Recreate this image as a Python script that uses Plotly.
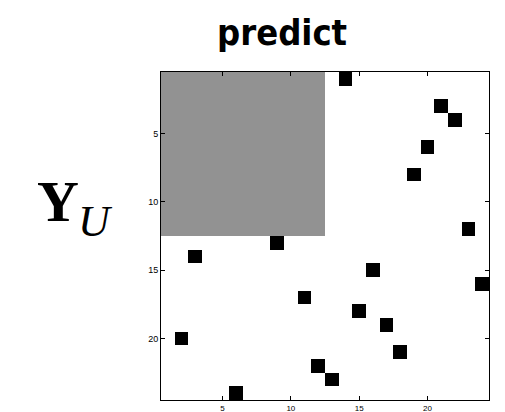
import plotly.graph_objects as go

# Matrix size and the observed (unknown) block
n = 24
block_rows = 12
block_cols = 12

# Known entries: column and row indices (1-based)
cols = [14, 21, 22, 20, 19, 23, 9, 3, 16, 24, 11, 15, 17, 2, 18, 12, 13, 6]
rows = [1, 3, 4, 6, 8, 12, 13, 14, 15, 16, 17, 18, 19, 20, 21, 22, 23, 24]

tick_vals = [5, 10, 15, 20]
tick_text = ["5", "10", "15", "20"]

# 0 = empty, 1 = masked block, 2 = entry
z = [[0] * n for _ in range(n)]
for r in range(block_rows):
    for c in range(block_cols):
        z[r][c] = 1
for c, r in zip(cols, rows):
    z[r - 1][c - 1] = 2

fig = go.Figure(go.Heatmap(
    z=z,
    x=list(range(1, n + 1)),
    y=list(range(1, n + 1)),
    zmin=0, zmax=2,
    colorscale=[[0, "#ffffff"], [0.333, "#ffffff"], [0.334, "#929292"],
                [0.666, "#929292"], [0.667, "#000000"], [1, "#000000"]],
    showscale=False,
    hoverinfo="skip",
))

axis_common = dict(
    showline=True, linecolor="black", linewidth=1, mirror="ticks",
    ticks="inside", ticklen=4, tickcolor="black",
    tickvals=tick_vals, ticktext=tick_text,
    showgrid=False, zeroline=False, automargin=False,
)

fig.update_xaxes(range=[0.5, n + 0.5], ticklabelstandoff=0,
                 tickfont=dict(family="Liberation Sans", size=8, color="black"),
                 **axis_common)
fig.update_yaxes(range=[n + 0.5, 0.5],
                 tickfont=dict(family="Liberation Sans", size=9, color="black"),
                 **axis_common)

fig.add_annotation(
    text="<b>predict</b>", xref="paper", yref="paper", x=0.369, y=1.0,
    yshift=40, xanchor="center", yanchor="middle", showarrow=False,
    font=dict(family="DejaVu Sans Condensed", size=36, color="black"),
)
fig.add_annotation(
    text="<b>Y</b>", xref="paper", yref="paper",
    x=-0.245, y=0.606, xanchor="right", yanchor="middle", showarrow=False,
    font=dict(family="Liberation Serif", size=58, color="black"),
)
fig.add_annotation(
    text="<i>U</i>", xref="paper", yref="paper",
    x=-0.258, y=0.545, xanchor="left", yanchor="middle", showarrow=False,
    font=dict(family="Liberation Serif", size=44, color="black"),
)

fig.update_layout(
    width=505, height=412,
    margin=dict(l=161, r=16, t=72, b=12),
    paper_bgcolor="white", plot_bgcolor="white",
    showlegend=False,
)

fig.write_html("out.html")
